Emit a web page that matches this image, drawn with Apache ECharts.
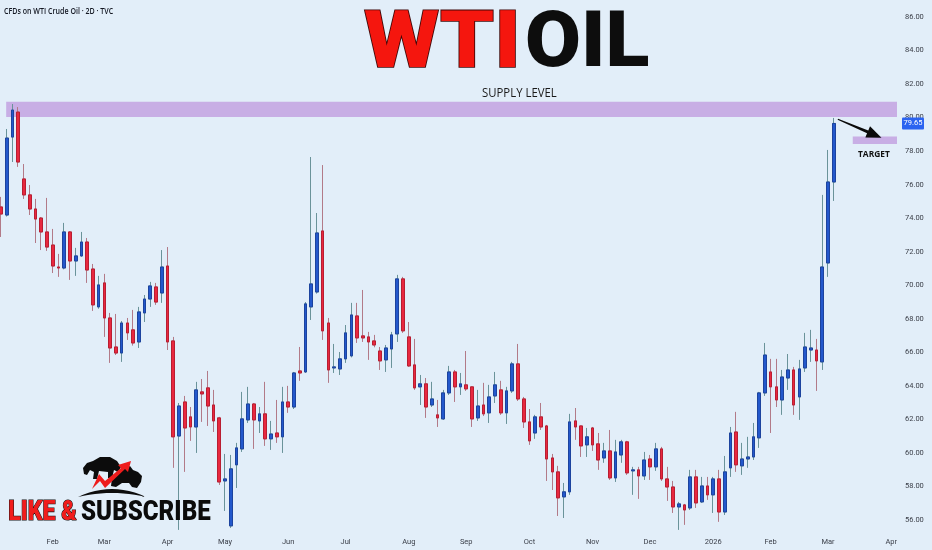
<!DOCTYPE html>
<html>
<head>
<meta charset="utf-8">
<script src="https://cdn.jsdelivr.net/npm/echarts@6/dist/echarts.min.js"></script>
<style>
html,body{margin:0;padding:0;background:#e2eef9;}
#c{width:932px;height:550px;}
</style>
</head>
<body>
<div id="c"></div>
<script>
// ---- categories: start day of each 2-trading-day bar, grouped by month ----
const monthDays = [
  ['2025-01', [6, 8, 13, 15, 17, 22, 24, 28, 30]],
  ['2025-02', [3, 5, 7, 11, 13, 18, 20, 24, 26]],
  ['2025-03', [3, 5, 7, 11, 13, 17, 19, 21, 25, 27, 31]],
  ['2025-04', [2, 4, 8, 10, 14, 16, 22, 24, 28, 30]],
  ['2025-05', [1, 5, 7, 9, 13, 15, 19, 21, 23, 28, 30]],
  ['2025-06', [2, 4, 6, 10, 12, 16, 18, 23, 25, 27]],
  ['2025-07', [1, 3, 8, 10, 14, 16, 18, 22, 24, 28, 30]],
  ['2025-08', [1, 5, 7, 11, 13, 15, 19, 21, 25, 27]],
  ['2025-09', [2, 4, 8, 10, 12, 16, 18, 22, 24, 26, 30]],
  ['2025-10', [1, 3, 7, 9, 13, 15, 17, 21, 23, 27, 29]],
  ['2025-11', [3, 5, 7, 11, 13, 17, 19, 21, 25, 28]],
  ['2025-12', [1, 3, 5, 9, 11, 15, 17, 19, 23, 26, 30]],
  ['2026-01', [2, 6, 8, 12, 14, 16, 21, 23, 27, 29]],
  ['2026-02', [2, 4, 6, 10, 12, 17, 19, 23, 25, 27]],
  ['2026-03', [2, 4, 6, 10, 12, 16, 18, 20, 24, 26, 30]],
  ['2026-04', [1, 3]]
];
const monthNames = ['Jan','Feb','Mar','Apr','May','Jun','Jul','Aug','Sep','Oct','Nov','Dec'];

// ---- OHLC values ----
const opens = [
  74.67, 74.19, 78.84, 80.33, 76.34, 75.39, 74.55, 74.01, 73.18, 72.40,
  71.09, 71.03, 73.18, 71.45, 71.75, 72.58, 70.97, 68.71, 70.14, 68.05,
  66.32, 65.96, 67.75, 67.34, 66.62, 68.35, 69.18, 69.90, 69.54, 71.15,
  66.68, 61.01, 63.04, 62.15, 61.55, 63.64, 63.88, 62.86, 62.09, 58.33,
  55.65, 59.29, 60.24, 61.97, 62.92, 61.91, 62.33, 60.84, 61.19, 60.96,
  63.04, 62.74, 64.89, 64.83, 68.71, 69.60, 73.24, 67.75, 65.07, 65.01,
  65.61, 65.79, 68.17, 66.98, 66.92, 66.68, 66.08, 65.55, 66.20, 67.10,
  70.38, 66.92, 65.25, 63.94, 64.12, 62.86, 62.27, 62.03, 63.58, 64.83,
  63.94, 64.06, 63.94, 62.09, 62.86, 62.39, 63.40, 63.76, 62.39, 63.70,
  65.31, 63.22, 61.85, 61.19, 62.15, 61.61, 59.70, 58.87, 57.38, 57.68,
  61.91, 61.61, 60.48, 61.49, 60.54, 59.70, 60.12, 58.51, 59.88, 60.66,
  58.93, 58.99, 58.63, 59.64, 59.17, 60.24, 58.45, 57.97, 56.78, 56.90,
  56.72, 58.57, 57.08, 58.03, 57.50, 58.45, 56.48, 59.11, 61.25, 59.23,
  59.64, 59.76, 60.90, 63.58, 64.83, 63.94, 63.16, 64.47, 64.95, 63.34,
  65.07, 66.14, 66.14, 65.43, 71.33, 76.16
];
const closes = [
  74.25, 78.78, 80.45, 77.35, 75.39, 74.55, 73.95, 73.18, 72.28, 71.15,
  71.03, 73.18, 71.45, 71.75, 72.58, 70.91, 68.83, 70.02, 68.05, 66.26,
  65.96, 67.75, 67.16, 66.56, 68.41, 69.18, 69.96, 69.00, 71.09, 66.62,
  60.96, 62.80, 61.49, 61.55, 63.76, 63.52, 62.80, 61.91, 58.27, 58.45,
  59.05, 60.30, 62.03, 62.92, 61.97, 62.33, 60.84, 61.13, 60.96, 63.04,
  62.74, 64.77, 64.77, 68.89, 70.08, 73.12, 67.28, 64.95, 65.13, 65.61,
  67.16, 68.23, 66.86, 66.86, 66.62, 66.44, 65.49, 66.26, 67.04, 70.38,
  67.28, 65.19, 63.88, 64.12, 62.74, 63.22, 62.09, 63.58, 64.83, 63.94,
  64.12, 63.82, 62.03, 62.80, 62.33, 63.34, 64.06, 62.39, 63.70, 65.31,
  63.22, 61.85, 60.72, 62.15, 61.55, 59.64, 58.87, 57.32, 57.68, 61.85,
  61.55, 60.42, 60.96, 60.48, 59.58, 60.12, 58.51, 60.06, 60.66, 58.81,
  58.99, 58.63, 59.58, 59.17, 60.24, 58.45, 57.97, 56.78, 56.96, 56.60,
  58.57, 57.02, 58.03, 57.50, 58.45, 56.48, 58.87, 61.19, 59.29, 59.64,
  59.76, 60.96, 63.58, 65.84, 63.94, 63.16, 64.53, 64.95, 62.86, 65.01,
  66.32, 66.26, 65.49, 71.09, 76.16, 79.65
];
const lows = [
  72.88, 74.10, 77.35, 77.06, 75.15, 74.19, 72.52, 72.10, 72.05, 70.73,
  70.50, 70.95, 70.32, 70.56, 71.70, 70.14, 68.47, 68.60, 66.92, 65.37,
  65.84, 65.43, 66.74, 66.40, 66.26, 67.81, 68.71, 68.83, 68.95, 66.14,
  59.11, 55.41, 58.87, 60.72, 60.00, 61.85, 61.61, 61.25, 58.09, 56.54,
  55.53, 57.91, 60.06, 61.79, 60.24, 61.19, 60.42, 60.18, 60.60, 60.00,
  62.39, 62.62, 64.30, 64.77, 67.93, 69.50, 66.74, 64.18, 64.77, 64.65,
  65.37, 65.70, 66.56, 66.62, 65.55, 66.30, 64.95, 64.83, 65.07, 66.62,
  67.16, 65.13, 63.76, 62.86, 62.09, 62.74, 61.55, 61.97, 63.46, 63.04,
  63.46, 63.70, 61.55, 61.91, 62.20, 61.79, 62.98, 62.27, 61.73, 63.58,
  63.10, 61.49, 60.48, 60.84, 61.37, 58.33, 57.79, 56.24, 56.12, 57.50,
  60.78, 59.76, 59.76, 60.12, 58.99, 59.41, 58.39, 58.27, 59.41, 58.69,
  57.50, 57.26, 58.39, 58.39, 58.93, 58.33, 57.14, 56.42, 55.41, 55.71,
  56.60, 56.72, 57.02, 57.20, 56.42, 55.89, 56.30, 58.57, 58.87, 58.69,
  59.11, 59.58, 60.30, 63.40, 61.19, 62.74, 62.27, 63.76, 62.27, 61.97,
  64.83, 65.43, 63.70, 64.95, 70.50, 75.03
];
const highs = [
  75.27, 79.32, 80.81, 80.63, 77.23, 75.98, 75.15, 74.07, 75.21, 73.36,
  71.87, 73.72, 73.22, 72.23, 73.18, 72.82, 71.27, 70.56, 70.68, 68.35,
  68.29, 67.87, 68.05, 68.53, 68.71, 69.42, 70.20, 70.14, 72.10, 72.28,
  66.92, 62.98, 63.40, 62.74, 64.24, 64.41, 64.89, 63.76, 62.15, 59.94,
  59.88, 60.60, 63.64, 63.94, 62.98, 62.74, 64.24, 61.91, 63.16, 63.94,
  64.00, 64.83, 66.32, 69.00, 77.65, 74.31, 77.17, 68.05, 66.50, 66.02,
  67.63, 68.95, 68.95, 69.72, 67.22, 67.04, 66.32, 66.44, 67.22, 70.62,
  70.50, 67.81, 66.80, 64.65, 64.47, 64.24, 63.16, 63.76, 65.19, 64.95,
  64.77, 66.08, 63.96, 63.76, 64.18, 64.06, 64.83, 64.30, 63.94, 65.43,
  66.50, 63.34, 62.62, 62.27, 62.98, 61.67, 59.94, 59.23, 58.21, 62.33,
  62.68, 61.63, 61.49, 61.55, 61.19, 60.60, 61.37, 60.78, 60.78, 60.72,
  59.17, 59.17, 60.06, 59.88, 60.60, 60.36, 59.17, 58.33, 57.08, 56.96,
  58.99, 58.99, 58.57, 58.57, 58.57, 58.99, 59.82, 61.55, 62.45, 60.60,
  60.96, 61.79, 63.64, 66.56, 65.61, 65.61, 64.95, 65.90, 65.13, 65.55,
  67.16, 67.34, 66.80, 75.39, 78.07, 79.98
];

// ---- annotations (in data units: bar index, price) ----
const supplyZone = { from: 0.9, to: 156, low: 80.03, high: 80.95 };
const targetZone = { from: 148.3, to: 156, low: 78.43, high: 78.87 };
const arrowFrom = [145.7, 79.9];
const arrowTo = [153.3, 78.8];
const lastPrice = 79.65;

// ---- build ----
const categories = [];
monthDays.forEach(([ym, days]) => days.forEach(d => categories.push(ym + '-' + String(d).padStart(2, '0'))));
function isMonthStart(i) { return i > 0 && categories[i].slice(0, 7) !== categories[i - 1].slice(0, 7); }
function monthLabel(v) { const m = +v.slice(5, 7); return m === 1 ? v.slice(0, 4) : monthNames[m - 1]; }

const ohlc = opens.map((o, i) => [o, closes[i], lows[i], highs[i]]);
const bodies = opens.map((o, i) => [o, closes[i], Math.min(o, closes[i]), Math.max(o, closes[i])]);

const BG = '#e2eef9';
const UP = '#2358cc', UP_B = '#1c439e', DN = '#e8283f', DN_B = '#b91d31';
const WICK_UP = '#6a939a', WICK_DN = '#b27a88';
const AXIS_TXT = '#3a3e48';

const chart = echarts.init(document.getElementById('c'), null, { renderer: 'canvas' });
chart.setOption({
  backgroundColor: BG,
  animation: false,
  grid: { left: 1, right: 35, top: 0.23, bottom: 13.23, containLabel: false, outerBoundsMode: 'none' },
  xAxis: {
    type: 'category', data: categories, boundaryGap: false,
    axisLine: { show: false }, axisTick: { show: false }, splitLine: { show: false },
    axisLabel: {
      interval: (i) => isMonthStart(i),
      formatter: (v) => monthLabel(v),
      hideOverlap: false,
      color: AXIS_TXT, fontSize: 7.5, fontFamily: 'Roboto', margin: 1
    }
  },
  yAxis: {
    type: 'value', position: 'right', min: 55, max: 87, interval: 1, scale: true,
    axisLine: { show: false }, axisTick: { show: false }, splitLine: { show: false },
    axisLabel: {
      formatter: (v) => (Math.round(v) % 2 === 0 ? v.toFixed(2) : ''),
      color: AXIS_TXT, fontSize: 7.5, fontFamily: 'Roboto', margin: 8
    }
  },
  series: [
    {
      name: 'wicks', type: 'candlestick', data: ohlc, barWidth: 3.2, silent: true, z: 3,
      itemStyle: { color: 'transparent', color0: 'transparent', borderColor: WICK_UP, borderColor0: WICK_DN, borderWidth: 1 }
    },
    {
      name: 'WTI', type: 'candlestick', data: bodies, barWidth: 3.2, silent: true, z: 4,
      itemStyle: { color: UP, color0: DN, borderColor: UP_B, borderColor0: DN_B, borderWidth: 1 }
    }
  ]
});

// ---- overlay drawings ----
const X = (f) => {
  const i = Math.floor(f);
  const a = chart.convertToPixel({ xAxisIndex: 0 }, i);
  const b = chart.convertToPixel({ xAxisIndex: 0 }, i + 1);
  return a + (f - i) * (b - a);
};
const Y = (v) => chart.convertToPixel({ yAxisIndex: 0 }, v);

const mctx = document.createElement('canvas').getContext('2d');
function fitText(text, font, box, style) {
  mctx.font = font; mctx.textBaseline = 'middle'; mctx.textAlign = 'left';
  const m = mctx.measureText(text);
  const w = m.actualBoundingBoxLeft + m.actualBoundingBoxRight;
  const h = m.actualBoundingBoxAscent + m.actualBoundingBoxDescent;
  const sx = (box[2] - box[0]) / w, sy = (box[3] - box[1]) / h;
  return {
    type: 'text', x: box[0] + m.actualBoundingBoxLeft * sx, y: box[1] + m.actualBoundingBoxAscent * sy,
    scaleX: sx, scaleY: sy, z: 100, silent: true,
    style: Object.assign({ text: text, font: font, x: 0, y: 0, textAlign: 'left', textVerticalAlign: 'middle', verticalAlign: 'middle' }, style)
  };
}

const gRight = X(156);
const els = [];

// supply zone
els.push({ type: 'rect', z: 1, silent: true,
  shape: { x: X(supplyZone.from), y: Y(supplyZone.high), width: X(supplyZone.to) - X(supplyZone.from), height: Y(supplyZone.low) - Y(supplyZone.high) },
  style: { fill: 'rgba(178,122,214,0.55)' } });
// target zone
els.push({ type: 'rect', z: 1, silent: true,
  shape: { x: X(targetZone.from), y: Y(targetZone.high), width: X(targetZone.to) - X(targetZone.from), height: Y(targetZone.low) - Y(targetZone.high) },
  style: { fill: 'rgba(178,122,214,0.55)' } });

// arrow
(function () {
  const sx = X(arrowFrom[0]), sy = Y(arrowFrom[1]);
  const tx = X(arrowTo[0]), ty = Y(arrowTo[1]);
  const L = Math.hypot(tx - sx, ty - sy);
  const dx = (tx - sx) / L, dy = (ty - sy) / L, nx = -dy, ny = dx;
  const headLen = 15, headW = 6, shaftW = 1.6;
  const bx = tx - dx * headLen, by = ty - dy * headLen;
  els.push({ type: 'polygon', z: 100, silent: true,
    shape: { points: [[sx + nx * 0.6, sy + ny * 0.6], [bx + nx * shaftW, by + ny * shaftW], [bx + nx * headW, by + ny * headW], [tx, ty],
                      [bx - nx * headW, by - ny * headW], [bx - nx * shaftW, by - ny * shaftW], [sx - nx * 0.6, sy - ny * 0.6]] },
    style: { fill: '#0a0a0a' } });
})();

// last price label
(function () {
  const py = Y(lastPrice);
  els.push({ type: 'rect', z: 100, silent: true, shape: { x: gRight + 5, y: py - 6, width: 22, height: 12, r: 1 }, style: { fill: '#2b63f0' } });
  els.push({ type: 'text', z: 101, silent: true, x: gRight + 16, y: py,
    style: { text: lastPrice.toFixed(2), fill: '#ffffff', font: '7.5px Roboto', textAlign: 'center', textVerticalAlign: 'middle', verticalAlign: 'middle' } });
})();

// texts
els.push(fitText('WTI', '900 80px Roboto', [364, 9.3, 515, 66.7], { fill: '#f5160e', stroke: '#3b0606', lineWidth: 1.6 }));
els.push(fitText('OIL', '900 80px Roboto', [527, 9.3, 648, 66.7], { fill: '#0d0d0d' }));
els.push(fitText('CFDs on WTI Crude Oil · 2D · TVC', '600 10px "Open Sans"', [4, 7.3, 113, 14.2], { fill: '#131722' }));
els.push(fitText('SUPPLY LEVEL', '500 11px "Open Sans"', [482, 87.5, 557, 96.6], { fill: '#1a1a1a' }));
els.push(fitText('TARGET', '700 10px "Open Sans"', [858, 149.5, 890, 156.7], { fill: '#111111' }));
els.push(fitText('LIKE &', '900 28px Roboto', [9, 500.5, 77, 520], { fill: '#f11c1c', stroke: '#111111', lineWidth: 1.2 }));
els.push(fitText('SUBSCRIBE', '900 28px Roboto', [81, 500.5, 211, 520], { fill: '#0b0b0b' }));

// logo (bear & bull emblem)
els.push({ type: 'polygon', z: 100, silent: true,
  shape: { points: [[84,474],[83,468],[87,463],[93,461],[100,457],[110,457],[117,461],[121,467],[118,472],[114,470],[112,478],[108,478],[108,472],[99,471],[97,479],[93,479],[94,472],[90,470],[87,475]] },
  style: { fill: '#0c0c0c' } });
els.push({ type: 'polygon', z: 100, silent: true,
  shape: { points: [[112,478],[118,470],[126,468],[130,466],[133,470],[138,472],[142,476],[141,482],[137,488],[132,487],[129,483],[122,483],[116,487],[111,486]] },
  style: { fill: '#0c0c0c' } });
els.push({ type: 'polygon', z: 101, silent: true,
  shape: { points: [[92,489],[99,474],[105,481],[121,468],[118,465],[131,461],[128,472],[125,469],[105,488],[100,481]] },
  style: { fill: '#ee1c1c' } });
// ground arc (lens shape)
(function () {
  const pts = [];
  const q = (p0, c, p1, t) => (1 - t) * (1 - t) * p0 + 2 * (1 - t) * t * c + t * t * p1;
  for (let k = 0; k <= 12; k++) { const t = k / 12; pts.push([q(78, 112, 146, t), q(497, 481, 497, t)]); }
  for (let k = 12; k >= 0; k--) { const t = k / 12; pts.push([q(78, 112, 146, t), q(497, 489, 497, t)]); }
  els.push({ type: 'polygon', z: 100, silent: true, shape: { points: pts }, style: { fill: '#0c0c0c' } });
})();

chart.setOption({ graphic: { elements: els } });
</script>
</body>
</html>
